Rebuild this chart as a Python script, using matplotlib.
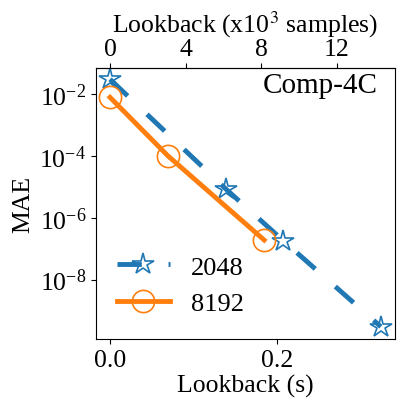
import matplotlib
matplotlib.use("Agg")
import matplotlib.pyplot as plt
import numpy as np

plt.rcParams['font.family'] = ['Liberation Serif', 'DejaVu Serif']
plt.rcParams['mathtext.fontset'] = 'stix'

SR = 44100.0
# series: lookback in seconds, MAE
lb_2048 = [0.0, 0.139, 0.208, 0.325]
mae_2048 = [3.0e-2, 8.5e-6, 1.8e-7, 3.0e-10]
lb_8192 = [0.0, 0.0695, 0.185]
mae_8192 = [7.8e-3, 1.0e-4, 1.9e-7]
labels = ['2048', '8192']
top_ticks = [0, 4, 8, 12]

FS = 18.5

fig = plt.figure(figsize=(4.08, 4.10), dpi=100)
ax = fig.add_axes([96/408, 1-340/410, (395-96)/408, (340-69)/410])

ax.plot(lb_2048, mae_2048, color='#1f77b4', ls=(0, (5, 5.5)), lw=3.5,
        marker='*', ms=16, mfc='none', mew=1.2, label=labels[0])
ax.plot(lb_8192, mae_8192, color='#ff7f0e', ls='-', lw=3.5,
        marker='o', ms=16, mfc='none', mew=1.2, label=labels[1])

ax.set_yscale('log')
ax.set_xlim(-0.0168, 0.342)
ax.set_ylim(10**-9.92, 10**-1.16)
ax.set_yticks([1e-2, 1e-4, 1e-6, 1e-8])
ax.minorticks_off()
ax.set_xticks([0.0, 0.2])
ax.set_xticklabels(['0.0', '0.2'])
ax.tick_params(labelsize=FS)
ax.set_xlabel('Lookback (s)', fontsize=FS, labelpad=2)
ax.set_ylabel('MAE', fontsize=FS)

sec = ax.secondary_xaxis('top', functions=(lambda s: s * SR / 1000.0, lambda k: k * 1000.0 / SR))
sec.set_xticks(top_ticks)
sec.tick_params(labelsize=FS, pad=2)
sec.set_xlabel(r'Lookback (x10$^3$ samples)', fontsize=FS, labelpad=5)

ax.text(0.943, 0.911, 'Comp-4C', transform=ax.transAxes, ha='right', va='baseline', fontsize=21)
ax.legend(loc='lower left', frameon=False, fontsize=19, handlelength=2,
          bbox_to_anchor=(-0.01, 0.0))

fig.savefig('out.png', dpi=100)
